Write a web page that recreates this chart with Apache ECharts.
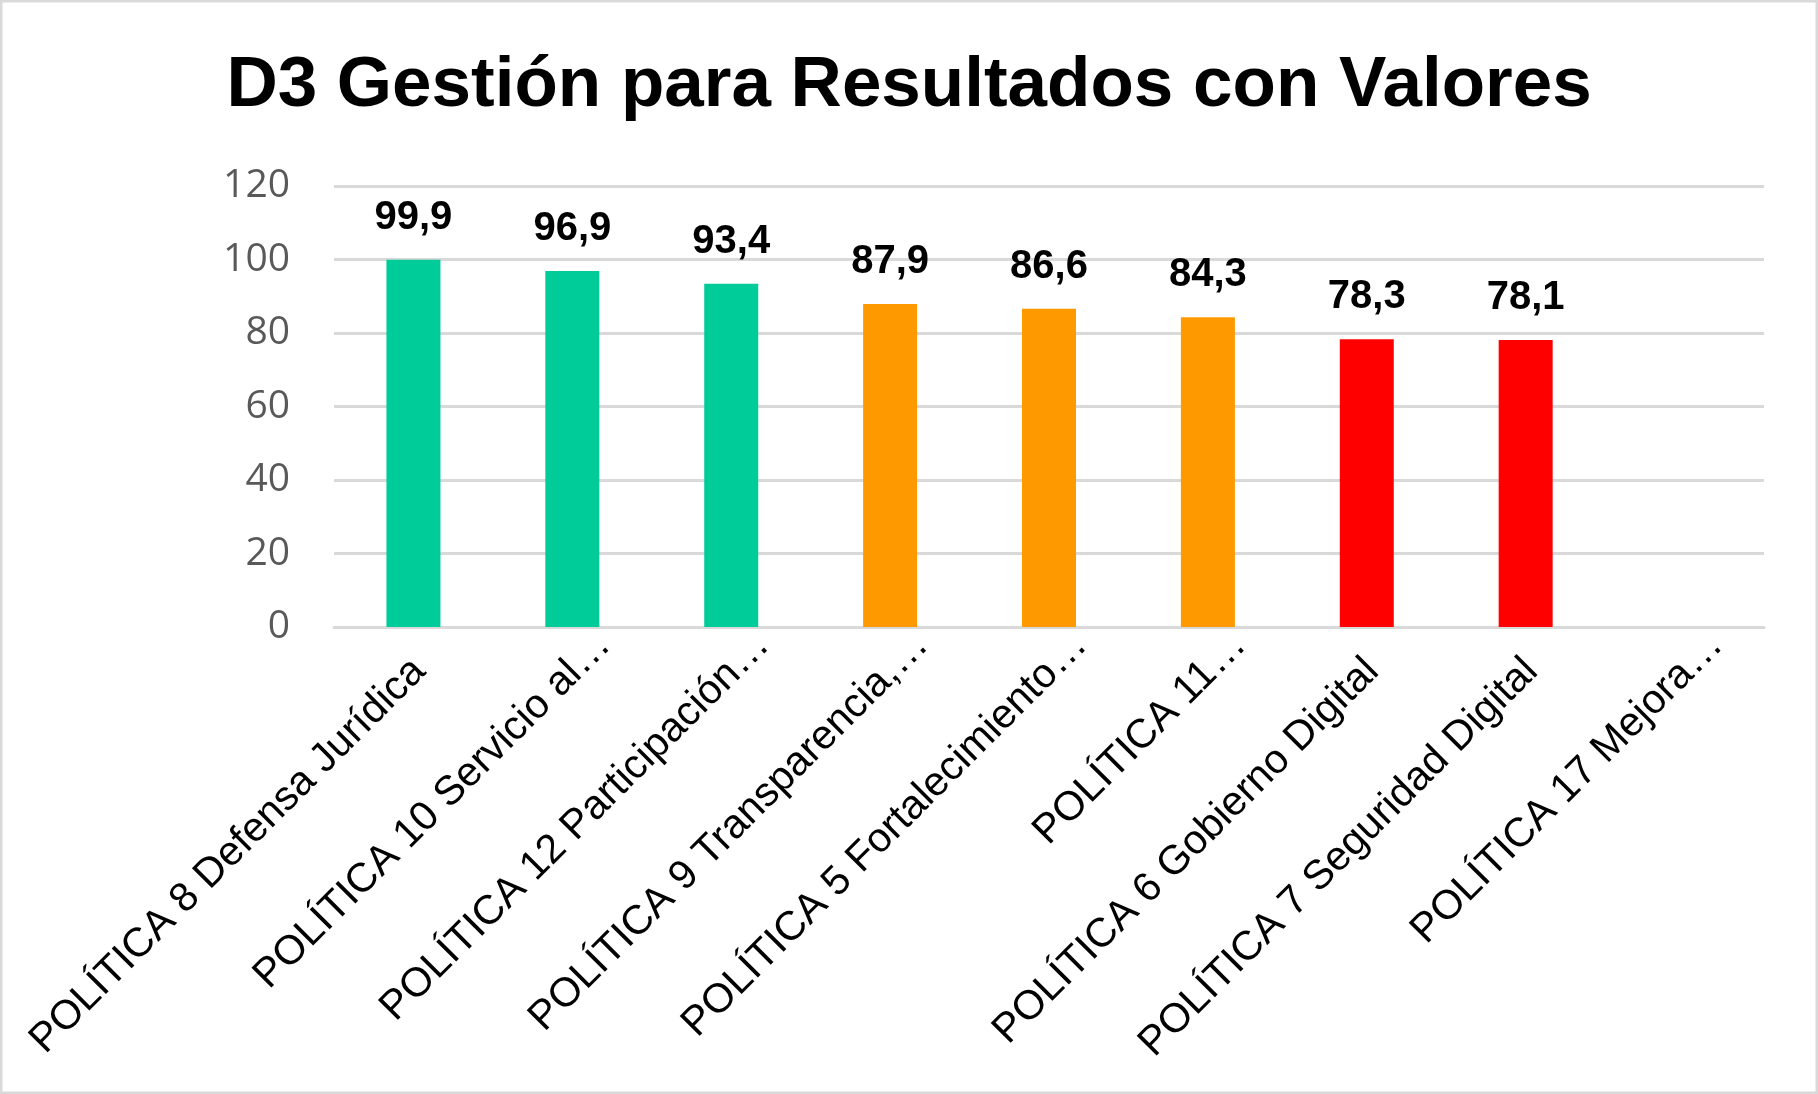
<!DOCTYPE html>
<html>
<head>
<meta charset="utf-8">
<script src="https://cdn.jsdelivr.net/npm/echarts@6/dist/echarts.min.js"></script>
<style>
  html, body { margin: 0; padding: 0; background: #fff; }
  #chart { width: 1818px; height: 1094px; }
</style>
</head>
<body>
<div id="chart"></div>
<script>
// datos del gráfico
const categorias = [
  'POLÍTICA 8 Defensa Jurídica',
  'POLÍTICA 10 Servicio al…',
  'POLÍTICA 12 Participación…',
  'POLÍTICA 9 Transparencia,…',
  'POLÍTICA 5 Fortalecimiento…',
  'POLÍTICA 11…',
  'POLÍTICA 6 Gobierno Digital',
  'POLÍTICA 7 Seguridad Digital',
  'POLÍTICA 17 Mejora…'
];
const valores = [99.9, 96.9, 93.4, 87.9, 86.6, 84.3, 78.3, 78.1, null];
const colores = ['#00CC99', '#00CC99', '#00CC99', '#FF9900', '#FF9900', '#FF9900', '#FF0000', '#FF0000', '#FF0000'];
const ticksY = [0, 20, 40, 60, 80, 100, 120];

const fuente = 'Liberation Sans, Arial, sans-serif';
const chart = echarts.init(document.getElementById('chart'));

const option = {
  backgroundColor: '#ffffff',
  animation: false,
  title: {
    text: 'D3 Gestión para Resultados con Valores',
    left: 'center',
    top: 46,
    textStyle: { fontFamily: fuente, fontSize: 71, fontWeight: 'bold', color: '#000' }
  },
  // borde gris del área del gráfico
  graphic: [{
    type: 'rect',
    shape: { x: 1, y: 1, width: 1816, height: 1092 },
    style: { fill: 'none', stroke: '#d9d9d9', lineWidth: 3 },
    silent: true
  }],
  grid: { left: 334, right: 54, top: 186, bottom: 467 },
  xAxis: {
    type: 'category',
    data: categorias,
    axisTick: { show: false },
    axisLine: { lineStyle: { color: '#d9d9d9', width: 3 } },
    axisLabel: {
      rotate: 45,
      interval: 0,
      margin: -20,
      padding: [90, 0, 0, 0],
      fontFamily: fuente,
      fontSize: 41,
      color: '#000',
      // las etiquetas recortadas (…) quedan algo más adelantadas
      formatter: v => (v.endsWith('…') ? '{e|' : '{n|') + v + '}',
      rich: {
        n: { fontFamily: fuente, fontSize: 41, color: '#000', padding: [0, 37, 0, 0] },
        e: { fontFamily: fuente, fontSize: 41, color: '#000' }
      }
    }
  },
  yAxis: {
    type: 'value',
    min: ticksY[0],
    max: ticksY[ticksY.length - 1],
    interval: 20,
    axisLine: { show: false },
    axisTick: { show: false },
    splitLine: { lineStyle: { color: '#d9d9d9', width: 3 } },
    axisLabel: { margin: 44, fontFamily: 'Open Sans, sans-serif', fontSize: 39, color: '#595959' }
  },
  series: [{
    type: 'bar',
    barWidth: 54,
    data: valores.map((v, i) => ({ value: v, itemStyle: { color: colores[i] } })),
    label: {
      show: true,
      position: 'top',
      distance: 22,
      fontFamily: fuente,
      fontSize: 40,
      fontWeight: 'bold',
      color: '#000',
      formatter: p => p.value == null ? '' : String(p.value).replace('.', ',')
    }
  }]
};

chart.setOption(option);
window.addEventListener('resize', () => chart.resize());
</script>
</body>
</html>
